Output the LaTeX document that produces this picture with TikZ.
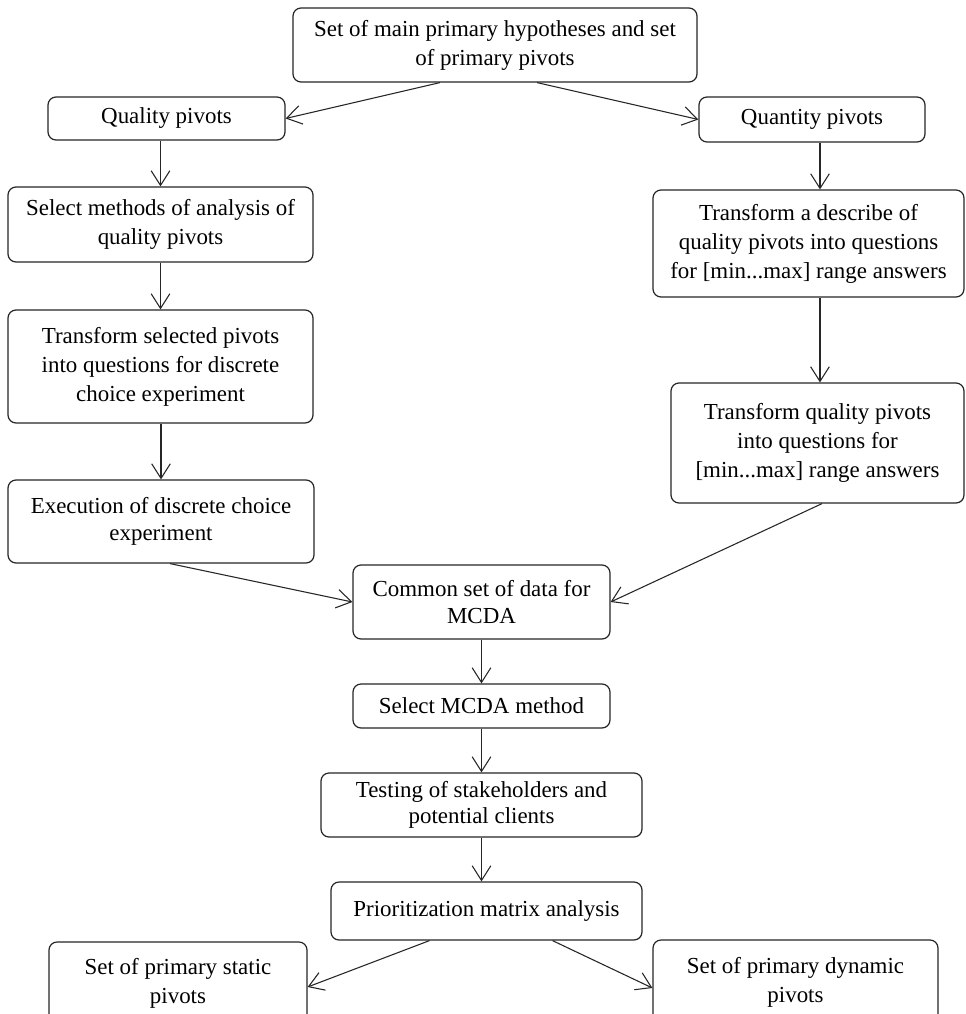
\documentclass[tikz,border=0pt]{standalone}
\usepackage{fontspec}
\setmainfont{Liberation Serif}
\usetikzlibrary{arrows.meta}
\tikzset{
  fbox/.style={draw=black!85, line width=0.9pt, rounded corners=6pt, align=center,
    inner sep=0pt, font=\fontsize{17.2}{21.75}\selectfont},
  tight/.style={font=\fontsize{17.2}{20}\selectfont},
  conn/.style={draw=black!85, line width=0.8pt, -{Straight Barb[length=11pt,width=14pt,line width=0.8pt]}}
}
\begin{document}
\begin{tikzpicture}[x=0.75pt,y=-0.75pt]
\clip (0,0) rectangle (966,1014);
\fill[white] (0,0) rectangle (966,1014);

\node[fbox, minimum width=303pt, minimum height=55.5pt] (top) at (495,45)
  {Set of main primary hypotheses and set\\of primary pivots};
\node[fbox, minimum width=177.75pt, minimum height=32.25pt] (ql) at (166.5,118.5)
  {Quality pivots};
\node[fbox, minimum width=169.5pt, minimum height=33.75pt] (qn) at (812,119.5)
  {Quantity pivots};
\node[fbox, minimum width=228.75pt, minimum height=56.25pt] (sm) at (160.5,224.5)
  {Select methods of analysis of\\quality pivots};
\node[fbox, minimum width=228.75pt, minimum height=84.75pt] (ts) at (160.5,366.5)
  {Transform selected pivots\\into questions for discrete\\choice experiment};
\node[fbox, tight, minimum width=229.5pt, minimum height=62.25pt] (ex) at (161,521.5)
  {Execution of discrete choice\\experiment};
\node[fbox, minimum width=233.25pt, minimum height=80.25pt] (de) at (808.5,243.5)
  {Transform a describe of\\quality pivots into questions\\for {[}min...max{]} range answers};
\node[fbox, minimum width=219.75pt, minimum height=90pt] (tq) at (817.5,443)
  {Transform quality pivots\\into questions for\\{[}min...max{]} range answers};
\node[fbox, tight, minimum width=192.75pt, minimum height=55.5pt] (cm) at (481.5,602)
  {Common set of data for\\MCDA};
\node[fbox, minimum width=192.75pt, minimum height=33pt] (mc) at (481.5,706)
  {Select MCDA method};
\node[fbox, tight, minimum width=240.75pt, minimum height=48pt] (te) at (481.5,805)
  {Testing of stakeholders and\\potential clients};
\node[fbox, minimum width=233.25pt, minimum height=43.5pt] (pr) at (486.5,911)
  {Prioritization matrix analysis};
\node[fbox, minimum width=193.5pt, minimum height=61.5pt] (st) at (178,983)
  {Set of primary static\\pivots};
\node[fbox, minimum width=213.75pt, minimum height=63pt] (dy) at (795.5,982)
  {Set of primary dynamic\\pivots};

\draw[conn] ([xshift=-41.25pt]top.south) -- (ql.east);
\draw[conn] ([xshift=31.5pt]top.south) -- (qn.west);
\draw[conn] (sm.north |- ql.south) -- (sm.north);
\draw[conn] (sm.south) -- (ts.north);
\draw[conn] (ex.north |- ts.south) -- (ex.north);
\draw[conn] ([xshift=6.75pt]ex.south) -- (cm.west);
\draw[conn] ([xshift=6pt]qn.south) -- ([xshift=6pt]qn.south |- de.north);
\draw[conn] ([xshift=8.6pt]de.south) -- ([xshift=8.6pt]de.south |- tq.north);
\draw[conn] ([xshift=3.4pt]tq.south) -- (cm.east);
\draw[conn] (cm.south) -- (mc.north);
\draw[conn] (mc.south) -- (te.north);
\draw[conn] (te.south) -- (te.south |- pr.north);
\draw[conn] ([xshift=-42.75pt]pr.south) -- ([yshift=-3pt]st.east);
\draw[conn] ([xshift=49.5pt]pr.south) -- ([yshift=-4.5pt]dy.west);
\end{tikzpicture}
\end{document}
